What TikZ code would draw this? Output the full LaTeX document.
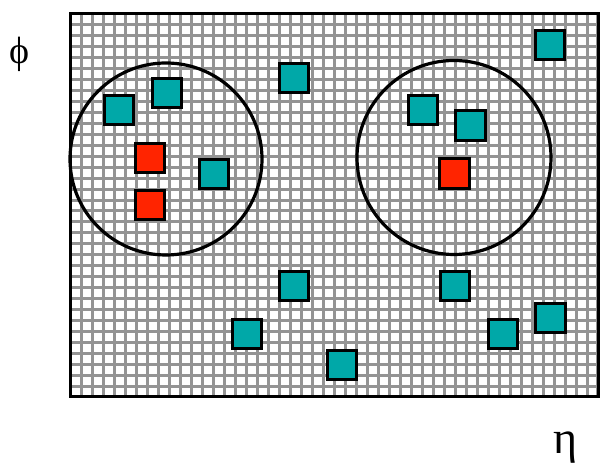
\documentclass[tikz,border=0pt]{standalone}
\usepackage{fontspec}
\setmainfont{Liberation Serif}
\definecolor{tealhit}{RGB}{0,168,168}
\definecolor{redhit}{RGB}{255,36,0}
\tikzset{
  cell/.style={draw=black, line width=3pt, minimum size=29.5pt, inner sep=0pt},
  tower/.style={cell, fill=tealhit},
  seed/.style={cell, fill=redhit},
  cone/.style={draw=black, line width=3.2pt},
}
\begin{document}
\begin{tikzpicture}[x=1pt,y=1pt]
\useasboundingbox (0,0) rectangle (614,465);
% calorimeter grid
\draw[black!42, line width=3pt, shift={(70,68)}] (0,0) grid[xstep=11,ystep=10.943] (528,383);
\draw[black, line width=3pt] (70,68) rectangle (598,451);
% cones
\draw[cone] (166,306) circle (96);
\draw[cone] (454,307.5) circle (97);
% towers
\node[tower] (t1) at (550,420) {};
\node[tower] (t2) at (294,387) {};
\node[tower] (t3) at (119,355) {};
\node[tower] (t4) at (167,372) {};
\node[tower] (t5) at (214,291) {};
\node[tower] (t6) at (423,355) {};
\node[tower] (t7) at (470.5,339.5) {};
\node[tower] (t8) at (294,179) {};
\node[tower] (t9) at (247,131) {};
\node[tower] (t10) at (342,100) {};
\node[tower] (t11) at (455,179) {};
\node[tower] (t12) at (503,131) {};
\node[tower] (t13) at (550.5,147) {};
% seeds
\node[seed] (s1) at (150,307) {};
\node[seed] (s2) at (150,260) {};
\node[seed] (s3) at (454.5,291.5) {};
% axes
\node[font=\fontsize{38}{38}\selectfont, inner sep=0pt] (phi) at (20,411) {ϕ};
\node[font=\fontsize{46}{46}\selectfont, inner sep=0pt] (eta) at (566,17) {η};
\end{tikzpicture}
\end{document}
